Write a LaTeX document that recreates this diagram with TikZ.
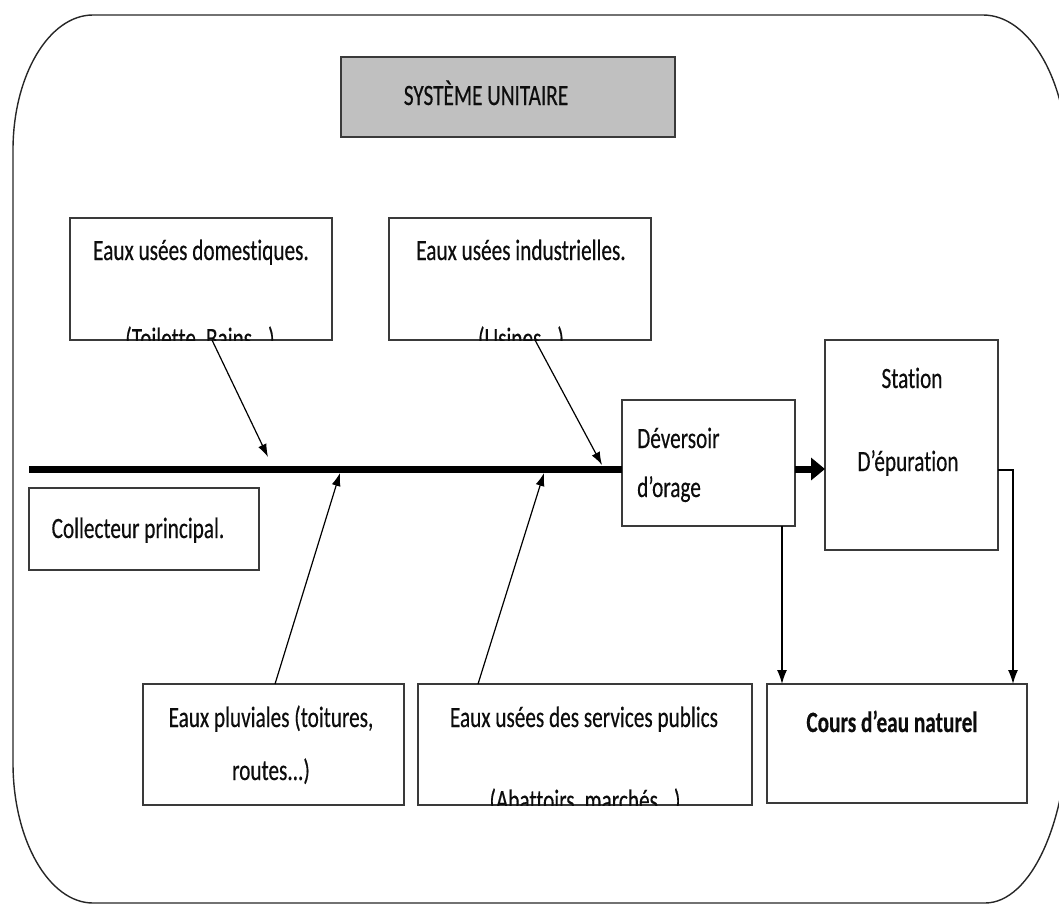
\documentclass[tikz,border=0pt]{standalone}
\usepackage{fontspec}
\setmainfont{Carlito}[FakeStretch=0.72,Ligatures=NoCommon,FakeBold=0.35]
\usetikzlibrary{arrows.meta}
\definecolor{boxline}{HTML}{3A3A3A}
\definecolor{titlefill}{HTML}{C0C0C0}
\begin{document}
\begin{tikzpicture}[x=1pt,y=-1pt,
  box/.style={draw=boxline,line width=1.8pt,inner sep=0pt,outer sep=0pt},
  txt/.style={anchor=base,inner sep=0pt,font=\fontsize{29.5}{34}\selectfont,text=black!95},
  feed/.style={line width=1.2pt,-{Latex[length=13pt,width=9pt]}},
  drop/.style={line width=1.4pt,-{Latex[length=14pt,width=10pt]}}]
\useasboundingbox (0,0) rectangle (1059,905);
\begin{scope}
\clip (0,0) rectangle (1059,905);
% outer frame
\draw[line width=1.4pt,black!85] (13,150) .. controls (13,75.5) and (49,15) .. (93,15)
  -- (983,15) .. controls (1030,15) and (1068,82) .. (1068,165)
  -- (1068,721) .. controls (1068,821) and (1031,903) .. (985,903)
  -- (93,903) .. controls (49,903) and (13,840) .. (13,763) -- cycle;
\end{scope}
% boxes
\node[box,fill=titlefill,minimum width=334pt,minimum height=80pt] (title) at (508,97) {};
\node[box,minimum width=262pt,minimum height=122pt] (dom) at (201,279) {};
\node[box,minimum width=262pt,minimum height=122pt] (ind) at (520,279) {};
\node[box,minimum width=230pt,minimum height=82pt] (col) at (144,529) {};
\node[box,minimum width=173pt,minimum height=126pt] (dev) at (708.5,463) {};
\node[box,minimum width=173pt,minimum height=210pt] (sta) at (911.5,445) {};
\node[box,minimum width=260pt,minimum height=119pt] (cours) at (897,743.5) {};
\node[box,minimum width=261pt,minimum height=121pt] (pluv) at (273.5,744.5) {};
\node[box,minimum width=334pt,minimum height=121pt] (pub) at (585,744.5) {};
% texts
\node[txt] (ttitle) at (486,105) {SYSTÈME UNITAIRE};
\node[txt] (tdom) at (201,260) {Eaux usées domestiques.};
\node[txt] (tind) at (521,260) {Eaux usées industrielles.};
\node[txt] (tcol) at (138,538) {Collecteur principal.};
\node[txt,anchor=base west] (tdev1) at (637,448) {Déversoir};
\node[txt,anchor=base west] (tdev2) at (637,497) {d’orage};
\node[txt] (tsta1) at (912,388) {Station};
\node[txt] (tsta2) at (908,471) {D’épuration};
\node[txt,font=\fontsize{29.5}{34}\selectfont\bfseries] (tcours) at (892,732) {Cours d’eau naturel};
\node[txt] (tpluv1) at (271,727) {Eaux pluviales (toitures,};
\node[txt] (tpluv2) at (271,780) {routes...)};
\node[txt] (tpub1) at (584,727) {Eaux usées des services publics};
% clipped second lines
\begin{scope}
\clip (dom.south west) rectangle (dom.north east);
\node[txt] (tdom2) at (200,348) {(Toilette, Bains...)};
\end{scope}
\begin{scope}
\clip (ind.south west) rectangle (ind.north east);
\node[txt] (tind2) at (521,348) {(Usines...)};
\end{scope}
\begin{scope}
\clip (pub.south west) rectangle (pub.north east);
\node[txt] (tpub2) at (585,810) {(Abattoirs, marchés...)};
\end{scope}
% collector line
\coordinate (cstart) at (29,469);
\draw[line width=7pt] (cstart) -- (cstart -| dev.west);
\draw[line width=7pt,-{Triangle[length=14pt,width=22pt]}] (dev.east |- cstart) -- (sta.west |- cstart);
% feeding arrows
\coordinate (d0) at (212,340);
\coordinate (d1) at (268,457);
\coordinate (i0) at (535,340);
\coordinate (i1) at (602,465);
\coordinate (p0) at (275,684);
\coordinate (p1) at (340,473);
\coordinate (s0) at (478,684);
\coordinate (s1) at (544,473);
\draw[feed] (d0) -- (d1);
\draw[feed] (i0) -- (i1);
\draw[feed] (p0) -- (p1);
\draw[feed] (s0) -- (s1);
% outlets
\coordinate (dvx) at (782,526);
\coordinate (cin1) at (782,684);
\coordinate (stx) at (998,470);
\coordinate (cin2) at (1013,684);
\draw[drop] (dvx) -- (cin1);
\draw[drop] (stx) -| (cin2);
\end{tikzpicture}
\end{document}
